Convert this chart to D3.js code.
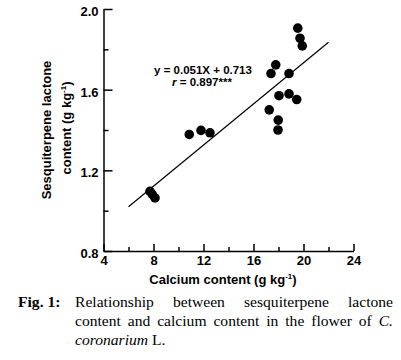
<!DOCTYPE html>
<html>
<head>
<meta charset="utf-8">
<script src="https://cdn.jsdelivr.net/npm/d3@7/dist/d3.min.js"></script>
<style>
  html, body { margin: 0; padding: 0; background: #fff; }
  svg { display: block; }
</style>
</head>
<body>
<svg id="chart" width="401" height="360"></svg>
<script>
// ---- data ----
const calcium = [19.54, 19.72, 19.9, 17.78, 17.4, 18.84, 18.04, 18.84, 19.46, 17.26, 17.98, 17.96, 10.86, 11.8, 12.52, 7.72, 7.9, 8.12];
const lactone = [1.905, 1.855, 1.817, 1.723, 1.68, 1.68, 1.57, 1.579, 1.551, 1.50, 1.449, 1.40, 1.378, 1.398, 1.386, 1.096, 1.081, 1.063];
const fitRange = [6, 22];
const fitSlope = 0.051, fitIntercept = 0.713;
const xTicks = [4, 8, 12, 16, 20, 24];
const xMinorTicks = [6, 10, 14, 18, 22];
const yTicks = [0.8, 1.2, 1.6, 2.0];
const yMinorTicks = [1.0, 1.4, 1.8];
const eqText = "y = 0.051X + 0.713";
const rValue = " = 0.897***";
const xTitle = "Calcium content (g kg";
const yTitle1 = "Sesquiterpene lactone";
const yTitle2 = "content (g kg";
const captionLabel = "Fig. 1:";
const captionLine1 = ["Relationship", "between", "sesquiterpene", "lactone"];
const captionLine2 = ["content", "and", "calcium", "content", "in", "the", "flower", "of"];

const svg = d3.select("#chart");
svg.append("rect").attr("width", 401).attr("height", 360).attr("fill", "#fff");

const x = d3.scaleLinear().domain([4, 24]).range([103.5, 353.5]);
const y = d3.scaleLinear().domain([0.8, 2.0]).range([251, 9]);

const sans = "'Liberation Sans', Arial, sans-serif";
const serif = "'Liberation Serif', 'Times New Roman', serif";

// axes
const yAxis = svg.append("g").attr("transform", `translate(${x(4)},0)`)
  .call(d3.axisLeft(y).tickValues(yTicks).tickFormat(d3.format(".1f")).tickSizeInner(-9).tickSizeOuter(0).tickPadding(4));
const yMinor = svg.append("g").attr("transform", `translate(${x(4)},0)`)
  .call(d3.axisLeft(y).tickValues(yMinorTicks).tickFormat("").tickSizeInner(-5).tickSizeOuter(0));
const xAxis = svg.append("g").attr("transform", `translate(0,${y(0.8)})`)
  .call(d3.axisBottom(x).tickValues(xTicks).tickFormat(d3.format("d")).tickSizeInner(-7).tickSizeOuter(0).tickPadding(5));
const xMinor = svg.append("g").attr("transform", `translate(0,${y(0.8)})`)
  .call(d3.axisBottom(x).tickValues(xMinorTicks).tickFormat("").tickSizeInner(-4).tickSizeOuter(0));

[yAxis, yMinor, xAxis, xMinor].forEach(g => {
  g.selectAll("path, line").attr("stroke", "#000").attr("stroke-width", 1.5);
  g.selectAll("text").attr("fill", "#000").attr("font-family", sans)
    .attr("font-weight", "bold").attr("font-size", 13);
});
yMinor.select(".domain").remove();
xMinor.select(".domain").remove();
yAxis.selectAll("text").attr("dy", "0.5em").attr("dx", "-1");
xAxis.selectAll("text").attr("dy", "0.72em");

// regression line
svg.append("line")
  .attr("x1", x(fitRange[0])).attr("y1", y(fitSlope * fitRange[0] + fitIntercept))
  .attr("x2", x(fitRange[1])).attr("y2", y(fitSlope * fitRange[1] + fitIntercept))
  .attr("stroke", "#000").attr("stroke-width", 1.2);

// points
svg.append("g").selectAll("circle").data(calcium).join("circle")
  .attr("cx", (d) => x(d)).attr("cy", (d, i) => y(lactone[i]))
  .attr("r", 4.8).attr("fill", "#000");

// annotation
svg.append("text").attr("x", 203).attr("y", 74).attr("text-anchor", "middle")
  .attr("font-family", sans).attr("font-weight", "bold").attr("font-size", 11.5)
  .text(eqText);
const rt = svg.append("text").attr("x", 202).attr("y", 85.5).attr("text-anchor", "middle")
  .attr("font-family", sans).attr("font-weight", "bold").attr("font-size", 11.5);
rt.append("tspan").attr("font-style", "italic").text("r");
rt.append("tspan").text(rValue);

// x title
const xt = svg.append("text").attr("x", 223).attr("y", 284).attr("text-anchor", "middle")
  .attr("font-family", sans).attr("font-weight", "bold").attr("font-size", 13);
xt.append("tspan").text(xTitle);
xt.append("tspan").attr("font-size", 8).attr("dy", -5).text("-1");
xt.append("tspan").attr("dy", 5).text(")");

// y title
svg.append("text").attr("transform", "translate(51,130) rotate(-90)")
  .attr("text-anchor", "middle").attr("font-family", sans).attr("font-weight", "bold").attr("font-size", 13)
  .text(yTitle1);
const yt2 = svg.append("text").attr("transform", "translate(71,128) rotate(-90)")
  .attr("text-anchor", "middle").attr("font-family", sans).attr("font-weight", "bold").attr("font-size", 13);
yt2.append("tspan").text(yTitle2);
yt2.append("tspan").attr("font-size", 8).attr("dy", -5).text("-1");
yt2.append("tspan").attr("dy", 5).text(")");

// caption
const capSize = 15.6;
svg.append("text").attr("x", 18).attr("y", 307).attr("font-family", serif)
  .attr("font-weight", "bold").attr("font-size", capSize).text(captionLabel);

function justify(words, y0, left, right, lastItalic) {
  const g = svg.append("g");
  const nodes = words.map(w => g.append("text").attr("y", y0).attr("font-family", serif)
    .attr("font-size", capSize).text(w));
  if (lastItalic) nodes.push(g.append("text").attr("y", y0).attr("font-family", serif)
    .attr("font-size", capSize).attr("font-style", "italic").text(lastItalic));
  const widths = nodes.map(n => n.node().getComputedTextLength());
  const total = d3.sum(widths);
  const gap = (right - left - total) / (nodes.length - 1);
  let cx = left;
  nodes.forEach((n, i) => { n.attr("x", cx); cx += widths[i] + gap; });
}
justify(captionLine1, 307, 75, 393);
justify(captionLine2, 326, 75, 393, "C.");
const l3 = svg.append("text").attr("x", 75).attr("y", 345).attr("font-family", serif).attr("font-size", capSize);
l3.append("tspan").attr("font-style", "italic").text("coronarium");
l3.append("tspan").text(" L.");
</script>
</body>
</html>
